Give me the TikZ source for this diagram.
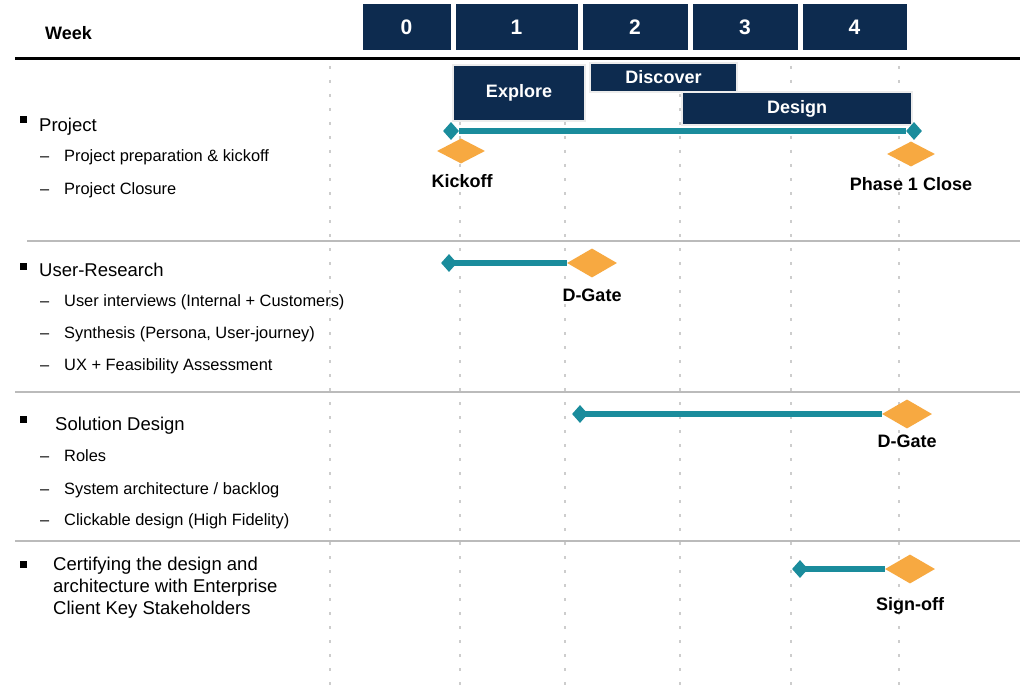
\documentclass[tikz,border=0pt]{standalone}
\usepackage{fontspec}
\setmainfont{Liberation Sans}
\usetikzlibrary{shapes.geometric}
\definecolor{navy}{HTML}{0D2B4F}
\definecolor{tealc}{HTML}{1A8C9C}
\definecolor{orangec}{HTML}{F7A941}
\definecolor{sepc}{HTML}{BBBBBB}
\definecolor{dotc}{HTML}{CDCDCD}
\begin{document}
\begin{tikzpicture}[x=1pt,y=-1pt,
  weekbox/.style={fill=navy,draw=white,line width=1pt,inner sep=0pt,text=white,font=\fontsize{21}{21}\selectfont\bfseries},
  phasebox/.style={fill=navy,draw=white!85!gray,line width=1.2pt,inner sep=0pt,text=white,font=\fontsize{18}{18}\selectfont\bfseries},
  tmark/.style={diamond,fill=tealc,inner sep=0pt,minimum width=16pt,minimum height=18pt},
  omark/.style={diamond,fill=orangec,inner sep=0pt,minimum width=50pt,minimum height=29pt},
  omarks/.style={diamond,fill=orangec,inner sep=0pt,minimum width=48pt,minimum height=25pt},
  tline/.style={draw=tealc,line width=6pt},
  mlabel/.style={font=\fontsize{18}{18}\selectfont\bfseries,inner sep=0pt},
  head/.style={anchor=base west,inner sep=0pt,font=\fontsize{18.5}{18.5}\selectfont},
  item/.style={anchor=base west,inner sep=0pt,font=\fontsize{16.4}{16.4}\selectfont},
  bul/.style={fill=black,inner sep=0pt,minimum size=7pt},
  sep/.style={draw=sepc,line width=2pt},
  vdots/.style={draw=dotc,line width=2.6pt,dash pattern=on 3pt off 11pt}
]
\useasboundingbox[fill=white] (0,0) rectangle (1024,695);

% dotted vertical grid
\foreach \x/\n in {330/a,460/b,565/c,680/d,791/e,899/f}{
  \coordinate (vt\n) at (\x,66);
  \coordinate (vb\n) at (\x,695);
  \draw[vdots] (vt\n) -- (vb\n);
}

% separators
\coordinate (s1l) at (27,241); \coordinate (s1r) at (1020,241);
\coordinate (s2l) at (15,392); \coordinate (s2r) at (1020,392);
\coordinate (s3l) at (15,541); \coordinate (s3r) at (1020,541);
\draw[sep] (s1l) -- (s1r);
\draw[sep] (s2l) -- (s2r);
\draw[sep] (s3l) -- (s3r);

% header
\node[anchor=west,inner sep=0pt,font=\fontsize{18}{18}\selectfont\bfseries] (week) at (45,33) {Week};
\node[weekbox,minimum width=89pt,minimum height=47pt] (w0) at (406.5,27.5) {0};
\node[weekbox,minimum width=123pt,minimum height=47pt] (w1) at (516.5,27.5) {1};
\node[weekbox,minimum width=106pt,minimum height=47pt] (w2) at (635,27.5) {2};
\node[weekbox,minimum width=106pt,minimum height=47pt] (w3) at (745,27.5) {3};
\node[weekbox,minimum width=105pt,minimum height=47pt] (w4) at (854.5,27.5) {4};
\coordinate (hl) at (15,58.5); \coordinate (hr) at (1020,58.5);
\draw[line width=3pt] (hl) -- (hr);

% phases
\node[phasebox,minimum width=132pt,minimum height=56pt] (explore) at (519,93) {Explore};
\node[phasebox,minimum width=147pt,minimum height=29pt] (discover) at (663.5,77.5) {Discover};
\node[phasebox,minimum width=230pt,minimum height=33pt] (design) at (797,108.5) {Design};

% Project row
\node[tmark] (p1) at (451,131) {};
\node[tmark] (p2) at (914,131) {};
\draw[tline,line width=5.5pt] (p1) -- (p2);
\node[omarks] (kick) at (461,151) {};
\node[mlabel] (kickl) at (462,181) {Kickoff};
\node[omarks] (close) at (911,154) {};
\node[mlabel] (closel) at (911,184) {Phase 1 Close};

% User research row
\node[tmark] (u1) at (449,263) {};
\node[omark] (u2) at (592,263) {};
\draw[tline] (u1.center) -- (u2.west);
\node[mlabel] (u2l) at (592,295) {D-Gate};

% Solution design row
\node[tmark] (d1) at (580,414) {};
\node[omark] (d2) at (907,414) {};
\draw[tline] (d1.center) -- (d2.west);
\node[mlabel] (d2l) at (907,441) {D-Gate};

% Certifying row
\node[tmark] (c1) at (800,569) {};
\node[omark] (c2) at (910,569) {};
\draw[tline] (c1.center) -- (c2.west);
\node[mlabel] (c2l) at (910,606) {Sign-off};

% left texts
\node[bul] (b1) at (23,120) {};
\node[head] (t1) at (39,131.5) {Project};
\node[item] (t1d1) at (40,162) {–};
\node[item] (t1a) at (64,162) {Project preparation \& kickoff};
\node[item] (t1d2) at (40,194) {–};
\node[item] (t1b) at (64,194) {Project Closure};

\node[bul] (b2) at (23,266) {};
\node[head] (t2) at (39,276.5) {User-Research};
\node[item] (t2d1) at (40,306) {–};
\node[item] (t2a) at (64,306) {User interviews (Internal + Customers)};
\node[item] (t2d2) at (40,338) {–};
\node[item] (t2b) at (64,338) {Synthesis (Persona, User-journey)};
\node[item] (t2d3) at (40,370) {–};
\node[item] (t2c) at (64,370) {UX + Feasibility Assessment};

\node[bul] (b3) at (23,419) {};
\node[head] (t3) at (55,430.5) {Solution Design};
\node[item] (t3d1) at (40,461) {–};
\node[item] (t3a) at (64,461) {Roles};
\node[item] (t3d2) at (40,494) {–};
\node[item] (t3b) at (64,494) {System architecture / backlog};
\node[item] (t3d3) at (40,525) {–};
\node[item] (t3c) at (64,525) {Clickable design (High Fidelity)};

\node[bul] (b4) at (23,564) {};
\node[anchor=north west,inner sep=0pt,align=left,font=\fontsize{18.5}{22}\selectfont] (t4) at (53,557) {Certifying the design and\\architecture with Enterprise\\Client Key Stakeholders};
\end{tikzpicture}
\end{document}
